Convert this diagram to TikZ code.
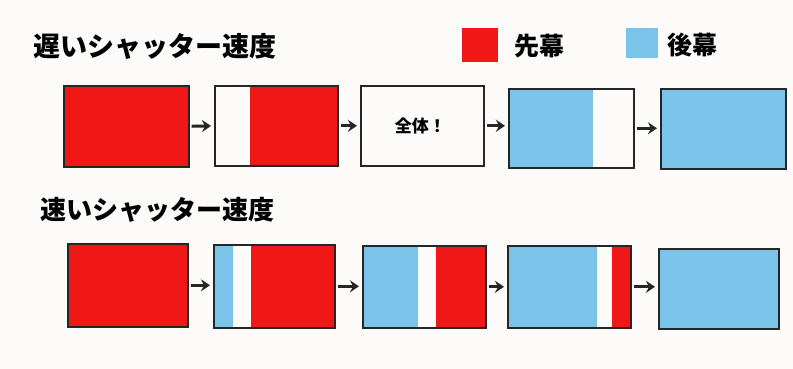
\documentclass[tikz,border=0pt]{standalone}
\usepackage{fontspec}
\newfontfamily\jp{Noto Sans CJK JP}
\usetikzlibrary{arrows.meta}
\definecolor{bg}{RGB}{253,251,249}
\definecolor{maku1}{RGB}{240,24,22}
\definecolor{maku2}{RGB}{122,196,234}
\tikzset{
  frame/.style={draw=black!85, line width=1.6pt, inner sep=0pt, anchor=north west, minimum width=#1},
  frame/.default=123pt,
  arr/.style={-{Stealth[length=9pt,width=12pt,inset=3pt]}, line width=3pt, black!85, shorten <=2pt, shorten >=3pt},
  title/.style={font=\jp\bfseries\fontsize{27}{27}\selectfont, anchor=west, inner sep=0pt},
  legend/.style={font=\jp\bfseries\fontsize{25}{25}\selectfont, anchor=west, inner sep=0pt},
}
\begin{document}
\begin{tikzpicture}[x=1pt,y=-1pt]
\fill[bg] (0,0) rectangle (793,369);
\useasboundingbox (0,0) rectangle (793,369);
% titles
\node[title] (t1) at (33,46) {遅いシャッター速度};
\node[title, font=\jp\bfseries\fontsize{26}{26}\selectfont] (t2) at (40,210) {速いシャッター速度};
% legend
\fill[maku1] (462,28) rectangle (498,62);
\node[legend] (l1) at (514,46) {先幕};
\fill[maku2] (626,28) rectangle (658,58);
\node[legend] (l2) at (667,45) {後幕};
% row 1 fills
\fill[maku1] (63,85) rectangle (188,166);
\fill[maku1] (250,85) rectangle (337,165);
\fill[maku2] (508,88) rectangle (593,167);
\fill[maku2] (660,88) rectangle (785,168);
% row 1 frames
\node[frame=125pt, minimum height=81pt] (a1) at (63,85) {};
\node[frame=123pt, minimum height=80pt] (a2) at (214,85) {};
\node[frame=123pt, minimum height=80pt] (a3) at (360,85) {};
\node[font=\jp\bfseries\fontsize{17}{17}\selectfont] (txt) at ([xshift=-2pt]a3.center) {全体！};
\node[frame=125pt, minimum height=79pt] (a4) at (508,88) {};
\node[frame=125pt, minimum height=80pt] (a5) at (660,88) {};
\draw[arr] (a1.east) -- (a2.west);
\draw[arr] (a2.east) -- (a3.west);
\draw[arr] (a3.east) -- (a4.west |- a3.east);
\draw[arr] (a4.east) -- (a5.west |- a4.east);
% row 2 fills
\fill[maku1] (67,243) rectangle (187,326);
\fill[maku2] (213,244) rectangle (233,327);
\fill[maku1] (251,244) rectangle (334,327);
\fill[maku2] (362,245) rectangle (418,327);
\fill[maku1] (436,245) rectangle (485,327);
\fill[maku2] (507,245) rectangle (597,327);
\fill[maku1] (612,245) rectangle (630,327);
\fill[maku2] (658,248) rectangle (778,328);
% row 2 frames
\node[frame=120pt, minimum height=83pt] (b1) at (67,243) {};
\node[frame=121pt, minimum height=83pt] (b2) at (213,244) {};
\node[frame=123pt, minimum height=82pt] (b3) at (362,245) {};
\node[frame=123pt, minimum height=82pt] (b4) at (507,245) {};
\node[frame=120pt, minimum height=80pt] (b5) at (658,248) {};
\draw[arr] (b1.east) -- (b2.west |- b1.east);
\draw[arr] (b2.east) -- (b3.west |- b2.east);
\draw[arr] (b3.east) -- (b4.west |- b3.east);
\draw[arr] (b4.east) -- (b5.west |- b4.east);
\end{tikzpicture}
\end{document}
